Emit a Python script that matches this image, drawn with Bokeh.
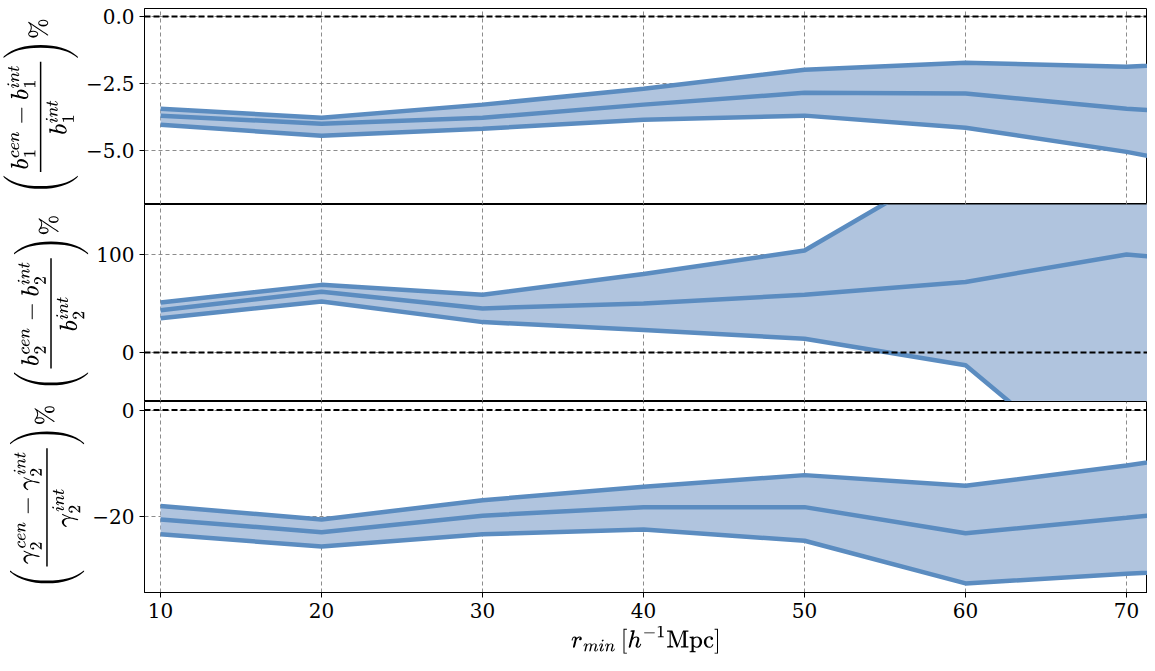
from bokeh.plotting import figure
from bokeh.layouts import column
from bokeh.models import Range1d, Span, FixedTicker, CustomJSTickFormatter
from bokeh.embed import file_html
from bokeh.resources import INLINE

r_min = [10, 20, 30, 40, 50, 60, 70, 80]

# panel 1: b1 relative difference (%)
b1_upper = [-3.43, -3.77, -3.28, -2.69, -1.98, -1.72, -1.87, -1.6]
b1_mid = [-3.69, -3.99, -3.77, -3.28, -2.84, -2.87, -3.43, -3.8]
b1_lower = [-4.03, -4.44, -4.18, -3.84, -3.69, -4.14, -5.04, -6.2]

# panel 2: b2 relative difference (%)
b2_upper = [51, 69, 59, 80, 104, 200, 260, 300]
b2_mid = [43, 62, 45, 50, 59, 72, 100, 85]
b2_lower = [35, 52, 31, 23, 14, -13, -150, -200]

# panel 3: gamma2 relative difference (%)
g2_upper = [-18.0, -20.5, -16.9, -14.4, -12.2, -14.2, -10.4, -6.0]
g2_mid = [-20.5, -22.9, -19.8, -18.2, -18.2, -23.1, -20.2, -17.0]
g2_lower = [-23.3, -25.6, -23.3, -22.4, -24.5, -32.5, -30.7, -29.0]

ylabels = [r"$$\left(\frac{b_1^{cen}-b_1^{int}}{b_1^{int}}\right)\%$$",
           r"$$\left(\frac{b_2^{cen}-b_2^{int}}{b_2^{int}}\right)\%$$",
           r"$$\left(\frac{\gamma_2^{cen}-\gamma_2^{int}}{\gamma_2^{int}}\right)\%$$"]

FONT = "DejaVu Serif"
FILL = "#b0c4de"
LINE = "#5b8cc0"
xr = Range1d(9, 71.3)

def panel(upper, mid, lower, yr, ticks, label, h, top, bottom, digits):
    p = figure(width=1147, height=h, x_range=xr, y_range=Range1d(*yr),
               output_backend="svg", toolbar_location=None,
               min_border_left=138, min_border_right=0,
               min_border_top=top,
               min_border_bottom=0 if not bottom else 10)
    p.varea(x=r_min, y1=lower, y2=upper, fill_color=FILL, fill_alpha=1)
    for s in (upper, mid, lower):
        p.line(r_min, s, line_color=LINE, line_width=4.5)
    p.add_layout(Span(location=0, dimension="width", line_color="black",
                      line_dash="6 3", line_width=2))
    p.yaxis.ticker = FixedTicker(ticks=ticks)
    p.xaxis.ticker = FixedTicker(ticks=[10, 20, 30, 40, 50, 60, 70])
    p.yaxis.formatter = CustomJSTickFormatter(
        code="return tick.toFixed(%d).replace('-', '\u2212');" % digits)
    p.yaxis.axis_label = label
    for ax in (p.xaxis, p.yaxis):
        ax.major_label_text_font = FONT
        ax.major_label_text_font_size = "20px"
        ax.major_label_text_color = "black"
        ax.axis_label_text_font = FONT
        ax.axis_label_text_font_size = "20px"
        ax.axis_label_text_color = "black"
        ax.axis_label_text_font_style = "normal"
        ax.minor_tick_line_color = None
        ax.major_tick_in = 0
        ax.major_tick_out = 5
        ax.axis_line_color = "black"
    if not bottom:
        p.xaxis.visible = False
    else:
        p.xaxis.axis_label = r"$$r_{min}\,[h^{-1}\mathrm{Mpc}]$$"
    for g in (p.xgrid, p.ygrid):
        g.grid_line_color = "gray"
        g.grid_line_dash = "4 3"
        g.grid_line_alpha = 0.9
    p.outline_line_color = "black"
    p.background_fill_color = "white"
    return p

p1 = panel(b1_upper, b1_mid, b1_lower, (-7.0, 0.3), [-5.0, -2.5, 0.0], ylabels[0], 204, 8, False, 1)
p2 = panel(b2_upper, b2_mid, b2_lower, (-50, 151), [0, 100], ylabels[1], 197, 0, False, 0)
p3 = panel(g2_upper, g2_mid, g2_lower, (-34.2, 1.6), [-20, 0], ylabels[2], 255, 0, True, 0)

layout = column(p1, p2, p3, spacing=0)
open("out.html", "w").write(file_html(layout, INLINE))
